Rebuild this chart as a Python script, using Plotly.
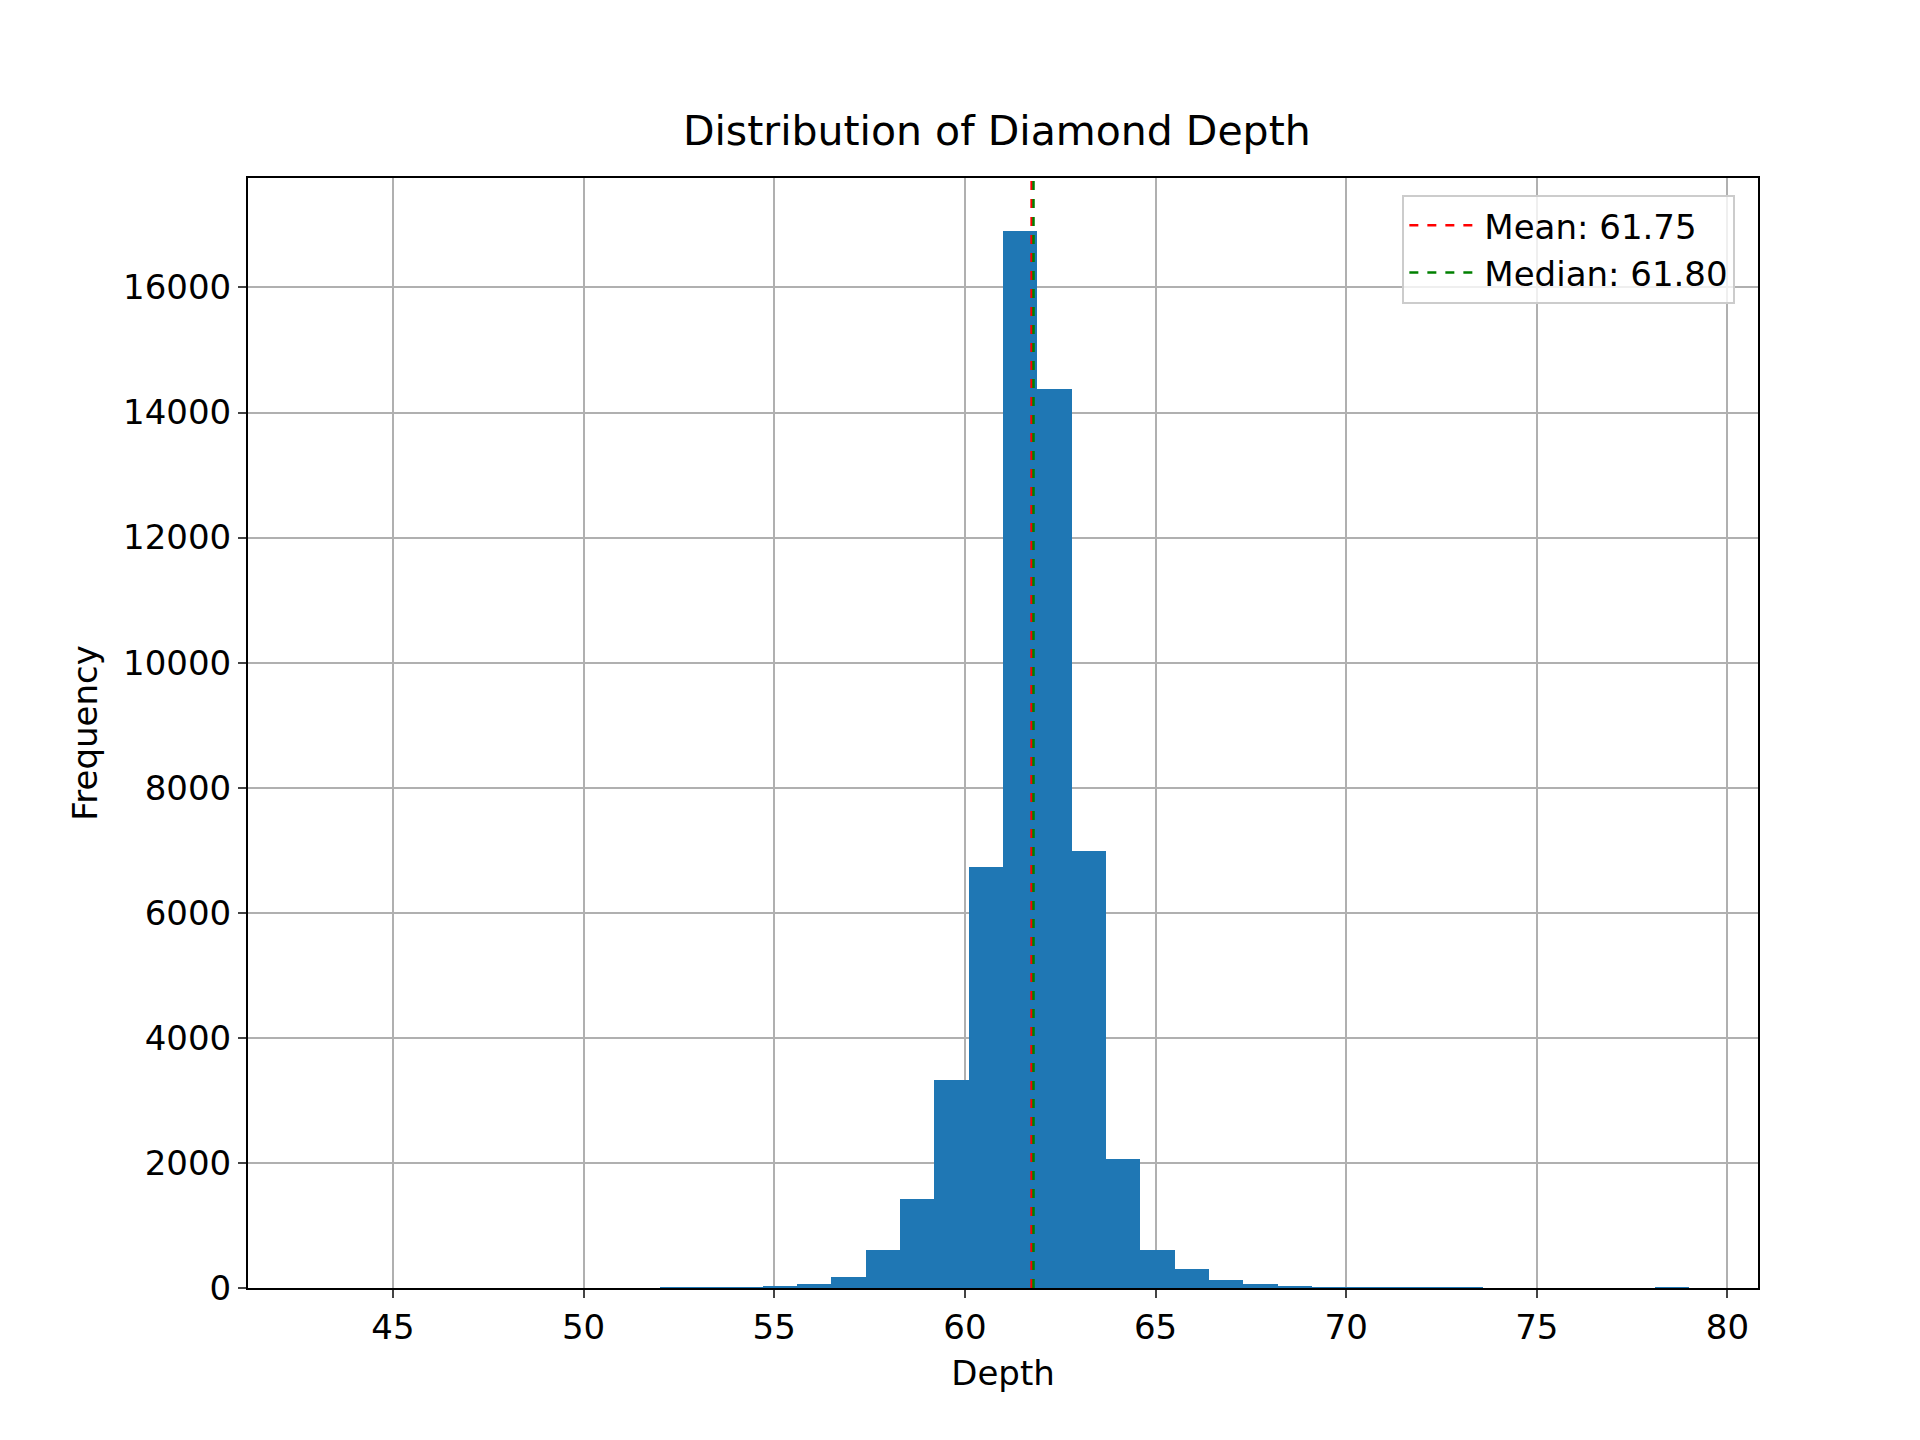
import plotly.graph_objects as go

bin_left = [43 + 0.9 * k for k in range(40)]
counts = [0, 0, 0, 0, 0, 0, 0, 0, 0, 0, 3, 5, 8, 20, 60, 170, 600, 1430,
          3330, 6730, 16900, 14380, 6990, 2060, 600, 310, 130, 60, 30, 10, 3, 2, 1, 1, 0, 0, 0, 0, 0, 1]
mean_v = 61.75
median_v = 61.80
ymax = 17750

fig = go.Figure()
fig.add_trace(go.Bar(x=[b + 0.45 for b in bin_left], y=counts, width=0.9,
                     marker=dict(color="#1f77b4", line=dict(width=0)), showlegend=False))
fig.add_trace(go.Scatter(x=[mean_v, mean_v], y=[0, ymax], mode="lines",
                         line=dict(color="red", dash="dash", width=2.5), name=f"Mean: {mean_v:.2f}"))
fig.add_trace(go.Scatter(x=[median_v, median_v], y=[0, ymax], mode="lines",
                         line=dict(color="green", dash="dash", width=2.5), name=f"Median: {median_v:.2f}"))

ax = dict(showline=True, linecolor="black", linewidth=2, mirror=True, ticks="outside",
          ticklen=8, tickwidth=2, showgrid=True, gridcolor="#b0b0b0", gridwidth=2,
          zeroline=False, tickfont=dict(size=34, color="black"))
fig.update_layout(
    width=1920, height=1440, plot_bgcolor="white", paper_bgcolor="white",
    font=dict(family="DejaVu Sans", color="black"),
    margin=dict(l=240, r=170, t=170, b=160),
    title=dict(text="Distribution of Diamond Depth", x=0.515, xanchor="center", y=0.925,
               font=dict(size=41)),
    xaxis=dict(range=[41.2, 80.8], tickvals=[45, 50, 55, 60, 65, 70, 75, 80],
               title=dict(text="Depth", font=dict(size=34)), **ax),
    yaxis=dict(range=[0, ymax], tickvals=list(range(0, 17000, 2000)), tickformat="d",
               title=dict(text="Frequency", font=dict(size=34)), **ax),
    bargap=0,
    legend=dict(x=0.985, y=0.985, xanchor="right", yanchor="top", bgcolor="rgba(255,255,255,0.8)",
                bordercolor="#cccccc", borderwidth=2, font=dict(size=34), itemwidth=70),
)
fig.write_html("out.html")
